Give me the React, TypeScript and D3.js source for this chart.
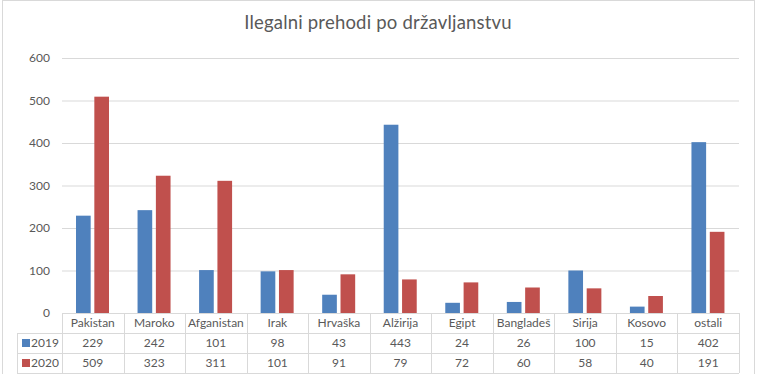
import * as d3 from "d3";

const categories = [
  "Pakistan",
  "Maroko",
  "Afganistan",
  "Irak",
  "Hrvaška",
  "Alžirija",
  "Egipt",
  "Bangladeš",
  "Sirija",
  "Kosovo",
  "ostali",
];
const values2019 = [229, 242, 101, 98, 43, 443, 24, 26, 100, 15, 402];
const values2020 = [509, 323, 311, 101, 91, 79, 72, 60, 58, 40, 191];
const seriesNames = ["2019", "2020"];
const seriesColors = ["#4F81BD", "#C0504D"];
const yTicks = [0, 100, 200, 300, 400, 500, 600];

const W = 763;
const H = 374;
const FONT = "Lato, 'Open Sans', sans-serif";
const TXT = "#595959";
const LINE = "#D9D9D9";

export default function App() {
  const series = [values2019, values2020];

  const x = d3.scaleBand<string>().domain(categories).range([62, 739]);
  const y = d3.scaleLinear().domain([0, 600]).range([313, 58]);
  const inner = d3
    .scaleBand<string>()
    .domain(seriesNames)
    .range([14, 47])
    .paddingInner(0.2);

  const rowH = 20;
  const tableTop = y(0);
  const legendLeft = 17;

  return (
    <svg
      width={W}
      height={H}
      style={{ position: "absolute", left: 0, top: 0, background: "#fff" }}
      fontFamily={FONT}
    >
      <rect x={2.5} y={0.5} width={752} height={H + 5} fill="#fff" stroke={LINE} />
      <text
        x={378}
        y={29}
        textAnchor="middle"
        fontSize={18.5}
        letterSpacing={0.2}
        fill={TXT}
      >
        Ilegalni prehodi po državljanstvu
      </text>

      {/* gridlines + y labels */}
      {yTicks.map((t) => (
        <g key={t}>
          {t > 0 && (
            <line x1={62} x2={739} y1={y(t) + 0.5} y2={y(t) + 0.5} stroke={LINE} />
          )}
          <text
            x={50}
            y={y(t)}
            dy="0.35em"
            textAnchor="end"
            fontSize={12}
            fill={TXT}
          >
            {t}
          </text>
        </g>
      ))}

      {/* bars */}
      {categories.map((c, i) => (
        <g key={c} transform={`translate(${x(c)},0)`}>
          {series.map((vals, s) => (
            <rect
              key={s}
              x={inner(seriesNames[s])}
              y={y(vals[i])}
              width={inner.bandwidth()}
              height={y(0) - y(vals[i])}
              fill={seriesColors[s]}
            />
          ))}
        </g>
      ))}

      {/* data table */}
      <g>
        <line x1={62} x2={739} y1={tableTop + 0.5} y2={tableTop + 0.5} stroke={LINE} />
        {[1, 2, 3].map((r) => (
          <line
            key={r}
            x1={legendLeft}
            x2={739}
            y1={tableTop + r * rowH + 0.5}
            y2={tableTop + r * rowH + 0.5}
            stroke={LINE}
          />
        ))}
        <line
          x1={legendLeft + 0.5}
          x2={legendLeft + 0.5}
          y1={tableTop + rowH}
          y2={tableTop + 3 * rowH}
          stroke={LINE}
        />
        {categories.concat(["_end"]).map((c, i) => {
          const xx = i < categories.length ? (x(c) as number) : 739;
          return (
            <line
              key={c}
              x1={Math.round(xx) + 0.5}
              x2={Math.round(xx) + 0.5}
              y1={tableTop}
              y2={tableTop + 3 * rowH}
              stroke={LINE}
            />
          );
        })}
        {categories.map((c, i) => {
          const cx = (x(c) as number) + x.bandwidth() / 2;
          return (
            <g key={c} fontSize={12} fill={TXT} textAnchor="middle">
              <text x={cx} y={tableTop + rowH / 2} dy="0.35em">
                {c}
              </text>
              {series.map((vals, s) => (
                <text key={s} x={cx} y={tableTop + rowH * (s + 1.5)} dy="0.35em">
                  {vals[i]}
                </text>
              ))}
            </g>
          );
        })}
        {seriesNames.map((n, s) => {
          const cy = tableTop + rowH * (s + 1.5);
          return (
            <g key={n}>
              <rect x={22} y={cy - 4} width={8} height={8} fill={seriesColors[s]} />
              <text x={31} y={cy} dy="0.35em" fontSize={12} fill={TXT}>
                {n}
              </text>
            </g>
          );
        })}
      </g>
    </svg>
  );
}
